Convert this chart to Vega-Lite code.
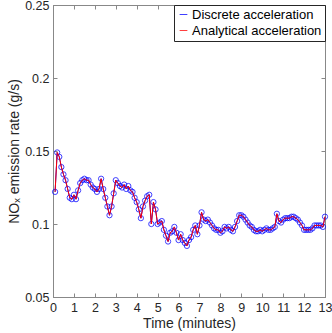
{
  "$schema": "https://vega.github.io/schema/vega-lite/v6.json",
  "width": 272,
  "height": 292,
  "autosize": "none",
  "padding": {"left": 53, "top": 5, "right": 7, "bottom": 36},
  "background": "white",
  "config": {
    "font": "Liberation Sans",
    "view": {"stroke": "#888", "strokeWidth": 1},
    "axis": {"grid": false, "domainColor": "#888", "tickColor": "#888", "labelColor": "#262626", "titleColor": "#262626", "labelFontSize": 12.5, "titleFontSize": 14, "titleFontWeight": "normal", "labelFont": "Liberation Sans", "titleFont": "Liberation Sans", "tickSize": -4, "labelPadding": 8, "labelOverlap": false, "labelFlush": false}
  },
  "data": {"values": [
    {"t":0.1,"d":0.122,"a":0.122},{"t":0.2,"d":0.149,"a":0.149},{"t":0.3,"d":0.146,"a":0.146},{"t":0.4,"d":0.139,"a":0.139},{"t":0.5,"d":0.134,"a":0.134},
    {"t":0.6,"d":0.130,"a":0.130},{"t":0.7,"d":0.124,"a":0.124},{"t":0.8,"d":0.118,"a":0.118},{"t":0.9,"d":0.117,"a":0.117},{"t":1.0,"d":0.120,"a":0.120},
    {"t":1.1,"d":0.117,"a":0.117},{"t":1.2,"d":0.123,"a":0.123},{"t":1.3,"d":0.128,"a":0.128},{"t":1.4,"d":0.130,"a":0.130},{"t":1.5,"d":0.131,"a":0.131},
    {"t":1.6,"d":0.130,"a":0.130},{"t":1.7,"d":0.130,"a":0.130},{"t":1.8,"d":0.127,"a":0.127},{"t":1.9,"d":0.125,"a":0.125},{"t":2.0,"d":0.124,"a":0.124},
    {"t":2.1,"d":0.122,"a":0.122},{"t":2.2,"d":0.124,"a":0.124},{"t":2.3,"d":0.131,"a":0.131},{"t":2.4,"d":0.124,"a":0.124},{"t":2.5,"d":0.118,"a":0.118},
    {"t":2.6,"d":0.112,"a":0.112},{"t":2.7,"d":0.106,"a":0.106},{"t":2.8,"d":0.112,"a":0.112},{"t":2.9,"d":0.121,"a":0.121},{"t":3.0,"d":0.130,"a":0.130},
    {"t":3.1,"d":0.128,"a":0.128},{"t":3.2,"d":0.126,"a":0.126},{"t":3.3,"d":0.125,"a":0.125},{"t":3.4,"d":0.127,"a":0.127},{"t":3.5,"d":0.124,"a":0.124},
    {"t":3.6,"d":0.126,"a":0.126},{"t":3.7,"d":0.123,"a":0.123},{"t":3.8,"d":0.122,"a":0.122},{"t":3.9,"d":0.118,"a":0.118},{"t":4.0,"d":0.115,"a":0.115},
    {"t":4.1,"d":0.110,"a":0.110},{"t":4.2,"d":0.104,"a":0.104},{"t":4.3,"d":0.112,"a":0.112},{"t":4.4,"d":0.116,"a":0.116},{"t":4.5,"d":0.119,"a":0.119},
    {"t":4.6,"d":0.120,"a":0.120},{"t":4.7,"d":0.100,"a":0.100},{"t":4.8,"d":0.115,"a":0.115},{"t":4.9,"d":0.110,"a":0.110},{"t":5.0,"d":0.100,"a":0.100},
    {"t":5.1,"d":0.101,"a":0.101},{"t":5.2,"d":0.102,"a":0.102},{"t":5.3,"d":0.096,"a":0.096},{"t":5.4,"d":0.092,"a":0.092},{"t":5.5,"d":0.088,"a":0.088},
    {"t":5.6,"d":0.094,"a":0.094},{"t":5.7,"d":0.095,"a":0.095},{"t":5.8,"d":0.098,"a":0.098},{"t":5.9,"d":0.094,"a":0.094},{"t":6.0,"d":0.089,"a":0.089},
    {"t":6.1,"d":0.093,"a":0.093},{"t":6.2,"d":0.089,"a":0.089},{"t":6.3,"d":0.087,"a":0.087},{"t":6.4,"d":0.085,"a":0.085},{"t":6.5,"d":0.089,"a":0.089},
    {"t":6.6,"d":0.091,"a":0.091},{"t":6.7,"d":0.096,"a":0.096},{"t":6.8,"d":0.099,"a":0.099},{"t":6.9,"d":0.093,"a":0.093},{"t":7.0,"d":0.099,"a":0.099},
    {"t":7.1,"d":0.108,"a":0.108},{"t":7.2,"d":0.103,"a":0.103},{"t":7.3,"d":0.102,"a":0.102},{"t":7.4,"d":0.103,"a":0.103},{"t":7.5,"d":0.101,"a":0.101},
    {"t":7.6,"d":0.099,"a":0.099},{"t":7.7,"d":0.097,"a":0.097},{"t":7.8,"d":0.096,"a":0.096},{"t":7.9,"d":0.096,"a":0.096},{"t":8.0,"d":0.094,"a":0.094},
    {"t":8.1,"d":0.095,"a":0.095},{"t":8.2,"d":0.098,"a":0.098},{"t":8.3,"d":0.097,"a":0.097},{"t":8.4,"d":0.098,"a":0.098},{"t":8.5,"d":0.096,"a":0.096},
    {"t":8.6,"d":0.095,"a":0.095},{"t":8.7,"d":0.098,"a":0.098},{"t":8.8,"d":0.102,"a":0.102},{"t":8.9,"d":0.106,"a":0.106},{"t":9.0,"d":0.106,"a":0.106},
    {"t":9.1,"d":0.105,"a":0.105},{"t":9.2,"d":0.103,"a":0.103},{"t":9.3,"d":0.101,"a":0.101},{"t":9.4,"d":0.099,"a":0.099},{"t":9.5,"d":0.098,"a":0.098},
    {"t":9.6,"d":0.096,"a":0.096},{"t":9.7,"d":0.095,"a":0.095},{"t":9.8,"d":0.095,"a":0.095},{"t":9.9,"d":0.096,"a":0.096},{"t":10.0,"d":0.095,"a":0.095},
    {"t":10.1,"d":0.096,"a":0.096},{"t":10.2,"d":0.097,"a":0.097},{"t":10.3,"d":0.096,"a":0.096},{"t":10.4,"d":0.096,"a":0.096},{"t":10.5,"d":0.097,"a":0.097},
    {"t":10.6,"d":0.098,"a":0.098},{"t":10.7,"d":0.107,"a":0.107},{"t":10.8,"d":0.102,"a":0.102},{"t":10.9,"d":0.101,"a":0.101},{"t":11.0,"d":0.103,"a":0.103},
    {"t":11.1,"d":0.104,"a":0.104},{"t":11.2,"d":0.104,"a":0.104},{"t":11.3,"d":0.104,"a":0.104},{"t":11.4,"d":0.105,"a":0.105},{"t":11.5,"d":0.105,"a":0.105},
    {"t":11.6,"d":0.104,"a":0.104},{"t":11.7,"d":0.103,"a":0.103},{"t":11.8,"d":0.101,"a":0.101},{"t":11.9,"d":0.099,"a":0.099},{"t":12.0,"d":0.096,"a":0.096},
    {"t":12.1,"d":0.096,"a":0.096},{"t":12.2,"d":0.096,"a":0.096},{"t":12.3,"d":0.096,"a":0.096},{"t":12.4,"d":0.097,"a":0.097},{"t":12.5,"d":0.099,"a":0.099},
    {"t":12.6,"d":0.099,"a":0.099},{"t":12.7,"d":0.099,"a":0.099},{"t":12.8,"d":0.099,"a":0.099},{"t":12.9,"d":0.098,"a":0.098},{"t":13.0,"d":0.105,"a":0.105}
  ]},
  "encoding": {
    "x": {"field": "t", "type": "quantitative", "scale": {"domain": [0, 13], "nice": false, "zero": false}},
    "color": {"scale": {"domain": ["Discrete acceleration", "Analytical acceleration"], "range": ["#0000ff", "#ff0000"]}}
  },
  "layer": [
    {
      "mark": {"type": "line", "point": {"filled": false, "size": 28, "strokeWidth": 1, "color": "#0000ff", "opacity": 0.75}, "strokeWidth": 1},
      "encoding": {
        "x": {"field": "t", "type": "quantitative", "title": "Time (minutes)", "axis": {"orient": "bottom", "values": [0,1,2,3,4,5,6,7,8,9,10,11,12,13], "titlePadding": 3}},
        "y": {"field": "d", "type": "quantitative", "title": "NOₓ emission rate (g/s)", "scale": {"domain": [0.05, 0.25], "nice": false, "zero": false}, "axis": {"orient": "left", "values": [0.05, 0.1, 0.15, 0.2, 0.25], "format": "~g", "titlePadding": 3}},
        "color": {"datum": "Discrete acceleration", "legend": {"orient": "top-right", "title": null, "offset": 0, "fillColor": "white", "strokeColor": "#262626", "padding": 3, "labelFontSize": 13, "labelFont": "Liberation Sans", "labelColor": "#000", "symbolType": "stroke", "symbolSize": 60, "symbolStrokeWidth": 1, "rowPadding": 2, "labelOffset": 2}}
      }
    },
    {
      "mark": {"type": "line", "strokeWidth": 1},
      "encoding": {
        "x": {"field": "t", "type": "quantitative", "axis": {"orient": "top", "title": null, "labels": false, "values": [0,1,2,3,4,5,6,7,8,9,10,11,12,13]}},
        "y": {"field": "a", "type": "quantitative", "scale": {"domain": [0.05, 0.25], "nice": false, "zero": false}, "axis": {"orient": "right", "title": null, "labels": false, "values": [0.05, 0.1, 0.15, 0.2, 0.25]}},
        "color": {"datum": "Analytical acceleration"}
      }
    }
  ],
  "resolve": {"axis": {"x": "independent", "y": "independent"}}
}
